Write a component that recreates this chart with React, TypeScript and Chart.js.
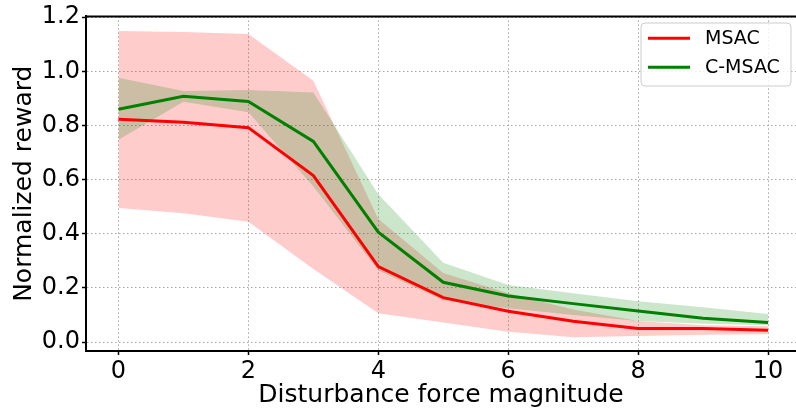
import React, { useEffect, useRef } from 'react';
import { Chart, registerables } from 'chart.js';

Chart.register(...registerables);

const forces = [0, 1, 2, 3, 4, 5, 6, 7, 8, 9, 10];
const msacMean = [0.823, 0.812, 0.792, 0.615, 0.279, 0.164, 0.114, 0.077, 0.05, 0.05, 0.044];
const msacUpper = [1.149, 1.145, 1.138, 0.965, 0.455, 0.255, 0.18, 0.12, 0.078, 0.062, 0.058];
const msacLower = [0.495, 0.476, 0.444, 0.27, 0.106, 0.072, 0.038, 0.018, 0.022, 0.027, 0.029];
const cmsacMean = [0.86, 0.908, 0.889, 0.741, 0.406, 0.221, 0.17, 0.142, 0.115, 0.088, 0.072];
const cmsacUpper = [0.976, 0.927, 0.931, 0.922, 0.546, 0.293, 0.211, 0.18, 0.151, 0.129, 0.104];
const cmsacLower = [0.747, 0.888, 0.849, 0.575, 0.264, 0.154, 0.125, 0.1, 0.078, 0.068, 0.062];
const xTicks = [0, 2, 4, 6, 8, 10];
const yTicks = [0, 0.2, 0.4, 0.6, 0.8, 1.0, 1.2];
const seriesNames = ['MSAC', 'C-MSAC'];
const xTitle = 'Disturbance force magnitude';
const yTitle = 'Normalized reward';

const RED = '#ff0000';
const GREEN = '#008000';
const FONT = "'DejaVu Sans', sans-serif";

const pts = (ys: number[]) => forces.map((x, i) => ({ x, y: ys[i] }));

const frame = {
  id: 'frame',
  afterDraw(chart: any) {
    const { ctx, chartArea } = chart;
    ctx.save();
    ctx.strokeStyle = '#000';
    ctx.lineWidth = 2;
    ctx.setLineDash([]);
    ctx.beginPath();
    ctx.moveTo(chartArea.left - 1, chartArea.top);
    ctx.lineTo(chartArea.right + 2, chartArea.top);
    ctx.stroke();
    // legend
    const bx = 641, by = 23, bw = 150, bh = 63, r = 4;
    ctx.fillStyle = 'rgba(255,255,255,0.8)';
    ctx.strokeStyle = '#cccccc';
    ctx.lineWidth = 1;
    ctx.beginPath();
    ctx.moveTo(bx + r, by);
    ctx.lineTo(bx + bw - r, by);
    ctx.arcTo(bx + bw, by, bx + bw, by + r, r);
    ctx.lineTo(bx + bw, by + bh - r);
    ctx.arcTo(bx + bw, by + bh, bx + bw - r, by + bh, r);
    ctx.lineTo(bx + r, by + bh);
    ctx.arcTo(bx, by + bh, bx, by + bh - r, r);
    ctx.lineTo(bx, by + r);
    ctx.arcTo(bx, by, bx + r, by, r);
    ctx.closePath();
    ctx.fill();
    ctx.stroke();
    const items = [
      { label: seriesNames[0], color: RED, ly: 38.3, ty: 39.4 },
      { label: seriesNames[1], color: GREEN, ly: 67.3, ty: 68.4 },
    ];
    ctx.font = `19px ${FONT}`;
    ctx.textBaseline = 'middle';
    ctx.textAlign = 'left';
    for (const it of items) {
      ctx.strokeStyle = it.color;
      ctx.lineWidth = 3;
      ctx.beginPath();
      ctx.moveTo(648, it.ly);
      ctx.lineTo(690, it.ly);
      ctx.stroke();
      ctx.fillStyle = '#000';
      ctx.fillText(it.label, 705, it.ty);
    }
    ctx.restore();
  },
};

export default function App() {
  const ref = useRef<HTMLCanvasElement>(null);
  useEffect(() => {
    if (!ref.current) return;
    const band = (data: number[], fill: any, color: string, order: number) => ({
      data: pts(data),
      borderColor: 'transparent',
      borderWidth: 0,
      pointRadius: 0,
      backgroundColor: color,
      fill,
      order,
      tension: 0,
    });
    const gridOpts = {
      color: '#a8a8a8',
      lineWidth: 1,
      tickLength: 4,
      tickColor: '#000',
      tickWidth: 1.5,
      tickBorderDash: [],
    };
    const borderOpts = { display: true, color: '#000', width: 2, dash: [1.5, 2.5] };
    const chart = new Chart(ref.current, {
      type: 'line',
      data: {
        datasets: [
          band(msacLower, false, 'transparent', 3),
          band(msacUpper, '-1', 'rgba(255,0,0,0.2)', 3),
          band(cmsacLower, false, 'transparent', 2),
          band(cmsacUpper, '-1', 'rgba(0,128,0,0.2)', 2),
          {
            label: seriesNames[0],
            data: pts(msacMean),
            borderColor: RED,
            borderWidth: 3,
            pointRadius: 0,
            fill: false,
            tension: 0,
            order: 1,
          },
          {
            label: seriesNames[1],
            data: pts(cmsacMean),
            borderColor: GREEN,
            borderWidth: 3,
            pointRadius: 0,
            fill: false,
            tension: 0,
            order: 0,
          },
        ],
      },
      options: {
        animation: false,
        responsive: false,
        maintainAspectRatio: false,
        layout: { padding: { top: 14, left: 0, right: 0, bottom: 0 } },
        plugins: { legend: { display: false }, tooltip: { enabled: false } },
        scales: {
          x: {
            type: 'linear',
            min: -0.5,
            max: 10.43,
            afterBuildTicks: (s: any) => {
              s.ticks = xTicks.map((v) => ({ value: v }));
            },
            afterFit: (s: any) => {
              s.height = 58;
            },
            ticks: {
              callback: (v: any) => String(v),
              font: { family: FONT, size: 24 },
              color: '#000',
              padding: 2,
              maxRotation: 0,
            },
            grid: gridOpts,
            border: borderOpts,
            title: {
              display: true,
              text: xTitle,
              font: { family: FONT, size: 25, lineHeight: 1 },
              color: '#000',
              padding: { top: 0, bottom: 1 },
            },
          },
          y: {
            type: 'linear',
            min: -0.033,
            max: 1.203,
            afterBuildTicks: (s: any) => {
              s.ticks = yTicks.map((v) => ({ value: v }));
            },
            afterFit: (s: any) => {
              s.width = 86;
            },
            ticks: {
              callback: (v: any) => Number(v).toFixed(1),
              font: { family: FONT, size: 24 },
              color: '#000',
              padding: 2,
            },
            grid: gridOpts,
            border: borderOpts,
            title: {
              display: true,
              text: yTitle,
              font: { family: FONT, size: 25, lineHeight: 1 },
              color: '#000',
              padding: { top: 12, bottom: 0 },
            },
          },
        },
      },
      plugins: [frame],
    } as any);
    return () => chart.destroy();
  }, []);
  return (
    <div style={{ position: 'absolute', left: 0, top: 0, width: 796, height: 409, background: '#fff' }}>
      <canvas ref={ref} width={796} height={409} style={{ display: 'block', width: 796, height: 409 }} />
    </div>
  );
}
